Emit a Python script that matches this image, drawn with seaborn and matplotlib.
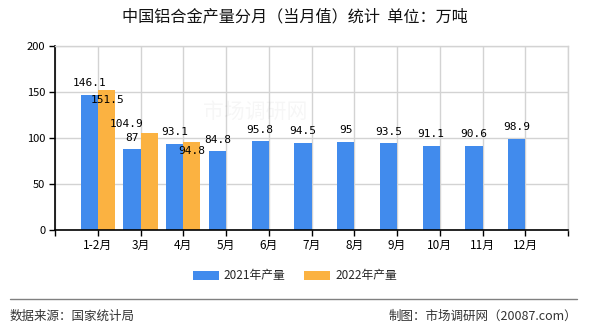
import matplotlib
matplotlib.use("Agg")
import matplotlib.pyplot as plt
import seaborn as sns
import pandas as pd
from matplotlib.lines import Line2D
from matplotlib.patches import Patch

# ---- data ----
months = ["1-2月", "3月", "4月", "5月", "6月", "7月", "8月", "9月", "10月", "11月", "12月"]
prod_2021 = [146.1, 87, 93.1, 84.8, 95.8, 94.5, 95, 93.5, 91.1, 90.6, 98.9]
prod_2022 = [151.5, 104.9, 94.8]
series_names = ["2021年产量", "2022年产量"]
y_ticks = [0, 50, 100, 150, 200]

rows = []
for m, v in zip(months, prod_2021):
    rows.append({"month": m, "series": series_names[0], "value": v})
for m, v in zip(months, prod_2022):
    rows.append({"month": m, "series": series_names[1], "value": v})
df = pd.DataFrame(rows)

# ---- style ----
sns.set_theme(style="white")
plt.rcParams["font.family"] = ["Noto Sans CJK SC", "DejaVu Sans"]
colors = ["#418bed", "#fbb241"]
grid_color = "#d3d3d3"

fig = plt.figure(figsize=(5.9, 3.3), dpi=100)
ax = fig.add_axes([55 / 590, 1 - 229.5 / 330, 513 / 590, 184 / 330])

sns.barplot(data=df, x="month", y="value", hue="series", order=months,
            hue_order=series_names, palette=colors, width=0.8,
            saturation=1, ax=ax, legend=False, errorbar=None,
            linewidth=0, edgecolor="none")

ax.set_xlim(-1, len(months))
ax.set_ylim(0, 200)
ax.set_yticks(y_ticks)
ax.set_xlabel("")
ax.set_ylabel("")

# grid
ax.set_axisbelow(True)
ax.grid(True, axis="both", color=grid_color, linewidth=1)
ax.set_xticks(list(range(-1, len(months) + 1)), minor=True)
ax.grid(True, which="minor", axis="x", color=grid_color, linewidth=1)
ax.tick_params(axis="x", which="minor", length=4, width=1, color="black", direction="out")
for s in ["top", "right"]:
    ax.spines[s].set_color(grid_color)
    ax.spines[s].set_linewidth(1)
for s in ["left", "bottom"]:
    ax.spines[s].set_color("black")
    ax.spines[s].set_linewidth(1.2)
ax.tick_params(axis="both", which="major", length=4, width=1, color="black",
               direction="out", labelsize=8.5, labelcolor="black", pad=3)
ax.tick_params(axis="y", labelsize=8)
ax.yaxis.set_ticks_position("left")
ax.xaxis.set_ticks_position("bottom")

# data labels
lab_font = dict(family="DejaVu Sans Mono", fontsize=8, color="black",
                ha="center", va="center")
offsets_2021 = [(0, 8.5)] * len(prod_2021)
offsets_2022 = [(1, -7), (-16, 6.5), (0, -6.5)]
for cont, vals, offs in zip(ax.containers, [prod_2021, prod_2022],
                            [offsets_2021, offsets_2022]):
    bars = [b for b in cont.patches if b.get_height() > 0]
    for b, v, off in zip(bars, vals, offs):
        cx = b.get_x() + b.get_width() / 2
        ax.annotate(f"{v:g}", xy=(cx, b.get_height()), xytext=off,
                    textcoords="offset points", **lab_font)

# watermark
fig.text(255 / 590, 1 - 112 / 330, "市场调研网", fontsize=15, color="#000000",
         alpha=0.035, ha="center", va="center")

# title
fig.text(0.5, 1 - 17 / 330, "中国铝合金产量分月（当月值）统计  单位：万吨",
         ha="center", va="center", fontsize=11.6, color="#111111")

# legend
handles = [Patch(facecolor=c, edgecolor="none") for c in colors]
fig.legend(handles, series_names, loc="center", bbox_to_anchor=(0.5, 1 - 276 / 330),
           ncol=2, frameon=False, fontsize=8.5, handlelength=2.2, handleheight=0.9,
           columnspacing=1.6, handletextpad=0.4)

# separator and footer
fig.add_artist(Line2D([10 / 590, 577 / 590], [1 - 299 / 330, 1 - 299 / 330],
                      color="#808080", linewidth=1))
fig.text(10 / 590, 1 - 316 / 330, "数据来源：国家统计局", ha="left", va="center",
         fontsize=9, color="#333333")
fig.text(577 / 590, 1 - 316 / 330, "制图：市场调研网（20087.com）", ha="right",
         va="center", fontsize=9, color="#333333")

fig.savefig("out.png", dpi=100)
